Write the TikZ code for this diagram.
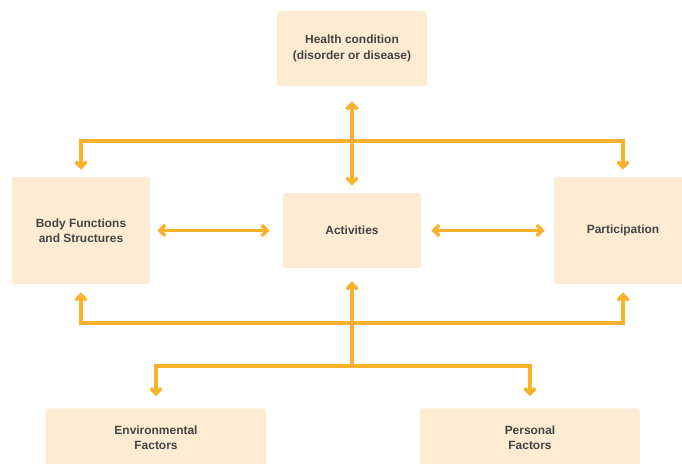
\documentclass[tikz,border=0pt]{standalone}
\usepackage{fontspec}
\setmainfont{Liberation Sans}
\usetikzlibrary{arrows.meta, positioning}
\definecolor{peach}{RGB}{253,236,210}
\definecolor{amber}{RGB}{249,176,42}
\definecolor{ink}{RGB}{68,68,68}
\tikzset{
  box/.style  ={fill=peach, rounded corners=2pt, align=center, text=ink,
                font=\fontsize{8.5}{10.9}\selectfont\bfseries},
  link/.style ={amber, line width=2.4pt},
  arr/.style  ={link, -{Straight Barb[length=1.4mm, width=2.7mm]}},
  dbl/.style  ={link, {Straight Barb[length=1.4mm, width=2.7mm]}-{Straight Barb[length=1.4mm, width=2.7mm]}},
}

\begin{document}
\begin{tikzpicture}[x=0.025cm, y=-0.025cm]
  \useasboundingbox (0,0) rectangle (682,464);

  \node[box, minimum width=3.75cm, minimum height=1.875cm] (health) at (352,48.5)
       {Health condition\\(disorder or disease)};
  \node[box, minimum width=3.45cm, minimum height=2.675cm] (body)   at (81,230.5)
       {Body Functions\\and Structures};
  \node[box, minimum width=3.45cm, minimum height=1.875cm] (act)    at (352,230.5)
       {Activities};
  \node[box, minimum width=3.45cm, minimum height=2.675cm] (part)   at (623,230.5)
       {Participation};
  \node[box, minimum width=5.5cm, minimum height=1.45cm]   (env)    at (156,437.5)
       {Environmental\\Factors};
  \node[box, minimum width=5.5cm, minimum height=1.45cm]   (pers)   at (530,437.5)
       {Personal\\Factors};

  \coordinate (top)   at (352,141);
  \coordinate (low)   at (352,323);
  \coordinate (split) at (352,366);

  \draw[dbl, shorten <=0.375cm, shorten >=0.175cm] (health) -- (act);
  \draw[dbl, shorten <=0.175cm, shorten >=0.175cm] (body) |- (top) -| (part);
  \draw[dbl, shorten <=0.175cm, shorten >=0.325cm] (body) -- (act);
  \draw[dbl, shorten <=0.25cm,  shorten >=0.225cm] (act) -- (part);
  \draw[dbl, shorten <=0.2cm,   shorten >=0.2cm]   (body) |- (low) -| (part);
  \draw[arr, shorten >=0.325cm] (split) -- (act);
  \draw[arr, shorten >=0.3cm]   (split) -| (env);
  \draw[arr, shorten >=0.3cm]   (split) -| (pers);
\end{tikzpicture}
\end{document}
